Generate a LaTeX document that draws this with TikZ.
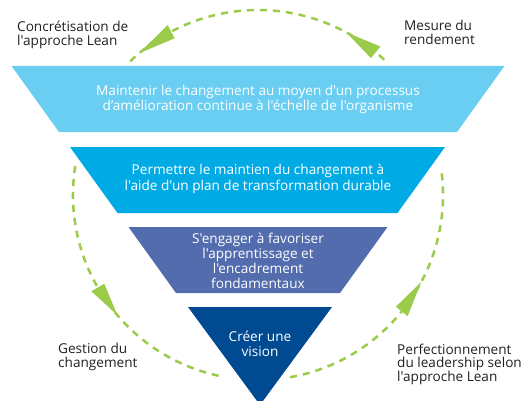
\documentclass[tikz,border=0pt]{standalone}
\usepackage{fontspec}
% plain apostrophes: no TeX ligature mapping on this family
\newfontfamily\diagfont{Open Sans}
\definecolor{levelA}{HTML}{69CEF2}
\definecolor{levelB}{HTML}{00ABE5}
\definecolor{levelC}{HTML}{536CAD}
\definecolor{levelD}{HTML}{004A92}
\definecolor{cyclegreen}{HTML}{9BCB4B}
\definecolor{labelink}{HTML}{231F20}
\begin{document}
\begin{tikzpicture}[x=1pt,y=1pt,
  inlevel/.style={text=white, align=center, inner sep=0pt, font=\diagfont\fontsize{13.6}{15}\selectfont},
  sidelabel/.style={text=labelink, align=left, anchor=north west, inner sep=0pt, font=\diagfont\fontsize{13.6}{14.2}\selectfont},
  cycleline/.style={draw=cyclegreen, line width=2.5pt, dash pattern=on 7pt off 6pt},
  cyclehead/.style={fill=cyclegreen}]
\useasboundingbox (0,0) rectangle (528,400);

% centre of the improvement cycle
\coordinate (C) at (258,205);

% dashed cycle, broken where the pyramid stands
\begin{scope}[shift={(C)}]
  \draw[cycleline] (47:185) arc[start angle=47, end angle=134, radius=185];
  \draw[cycleline] (171:185) arc[start angle=171, end angle=259, radius=185];
  \draw[cycleline] (280:185) arc[start angle=280, end angle=368, radius=185];
  % arrow heads, all running counter-clockwise
  \fill[cyclehead] (50.5:192.5) -- (61.5:185) -- (50.5:177.5) -- cycle;
  \fill[cyclehead] (118:192.5) -- (130:185) -- (118:177.5) -- cycle;
  \fill[cyclehead] (210:192.5) -- (220.5:185) -- (210:177.5) -- cycle;
  \fill[cyclehead] (321:192.5) -- (332:185) -- (321:177.5) -- cycle;
\end{scope}

% inverted pyramid
\fill[levelA] (11.5,334) -- (504.5,334) -- (457,268) -- (59,268) -- cycle;
\fill[levelB] (70,253) -- (445,253) -- (397.5,187) -- (117.5,187) -- cycle;
\fill[levelC] (128.5,173) -- (387.5,173) -- (340,107) -- (176,107) -- cycle;
\fill[levelD] (188,93) -- (332,93) -- (260,-5) -- cycle;

\node[inlevel] (lvA) at (258,301) {Maintenir le changement au moyen d'un processus\\d’amélioration continue à l'échelle de l'organisme};
\node[inlevel, font=\diagfont\fontsize{13.6}{16}\selectfont] (lvB) at (258,221) {Permettre le maintien du changement à\\l'aide d'un plan de transformation durable};
\node[inlevel] (lvC) at (258,139) {S'engager à favoriser\\l'apprentissage et\\l'encadrement\\fondamentaux};
\node[inlevel] (lvD) at (260,56) {Créer une\\vision};

% stages of the cycle
\node[sidelabel] (stA) at (17,379.5) {Concrétisation de\\l'approche Lean};
\node[sidelabel] (stB) at (404,380.5) {Mesure du\\rendement};
\node[sidelabel] (stC) at (58,57.5) {Gestion du\\changement};
\node[sidelabel, font=\diagfont\fontsize{13.6}{13.6}\selectfont] (stD) at (397,56.5) {Perfectionnement\\du leadership selon\\l'approche Lean};
\end{tikzpicture}
\end{document}
